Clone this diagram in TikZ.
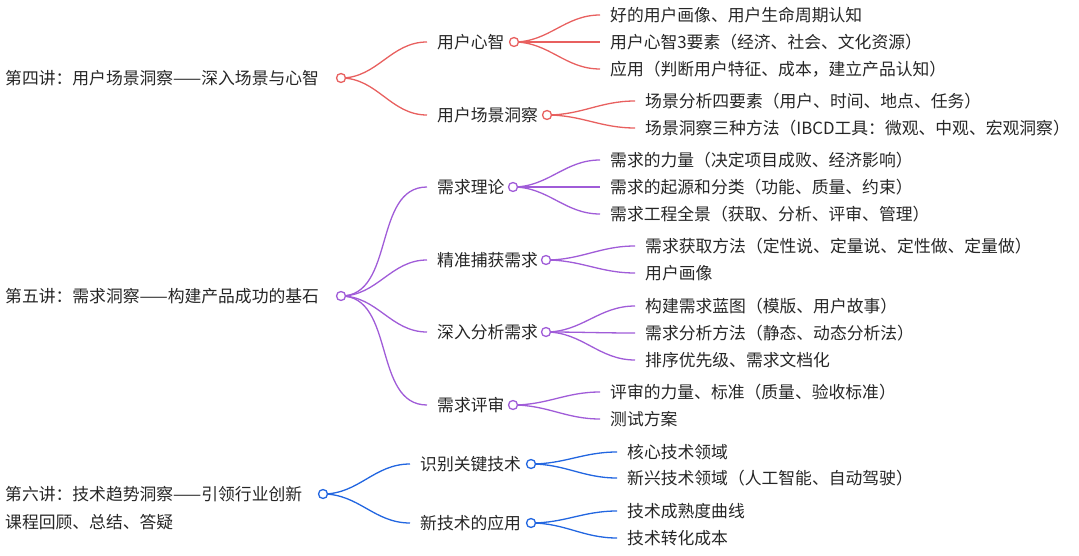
\documentclass[tikz,border=0pt]{standalone}
\usepackage{fontspec}
\setmainfont{Noto Sans CJK SC}
\definecolor{cr}{HTML}{E8605F}
\definecolor{cp}{HTML}{A05CD8}
\definecolor{cb}{HTML}{2266E0}
\begin{document}
\begin{tikzpicture}[x=1pt,y=-1pt,
  txt/.style={anchor=west,inner sep=0pt,font=\fontsize{16.8}{18}\selectfont,text=black!85},
  dot/.style={circle,draw,line width=1.3pt,fill=white,minimum size=9pt,inner sep=0pt},
  br/.style={line width=1.3pt,out=0,in=180}]
\useasboundingbox (0,0) rectangle (1079,556);
% level 1
\node[txt] (t4) at (5,78) {第四讲：用户场景洞察——深入场景与心智};
\node[txt] (t5) at (5,296) {第五讲：需求洞察——构建产品成功的基石};
\node[txt] (t6) at (5,494) {第六讲：技术趋势洞察——引领行业创新};
\node[txt] (t7) at (5,522) {课程回顾、总结、答疑};
\coordinate (c4) at (341,78);
\coordinate (c5) at (341,296);
\coordinate (c6) at (323,494);
% level 2
\node[txt] (a1) at (437,42) {用户心智}; \coordinate (ca1) at (514,42);
\node[txt] (a2) at (437,115) {用户场景洞察}; \coordinate (ca2) at (547,115);
\node[txt] (b1) at (437,187) {需求理论}; \coordinate (cb1) at (513,187);
\node[txt] (b2) at (437,260) {精准捕获需求}; \coordinate (cb2) at (546,260);
\node[txt] (b3) at (437,332) {深入分析需求}; \coordinate (cb3) at (546,332);
\node[txt] (b4) at (437,405) {需求评审}; \coordinate (cb4) at (513,405);
\node[txt] (d1) at (420,464) {识别关键技术}; \coordinate (cd1) at (531,464);
\node[txt] (d2) at (420,523) {新技术的应用}; \coordinate (cd2) at (531,523);
% level 3
\node[txt] (a11) at (610,15) {好的用户画像、用户生命周期认知};
\node[txt] (a12) at (610,42) {用户心智3要素（经济、社会、文化资源）};
\node[txt] (a13) at (610,69) {应用（判断用户特征、成本，建立产品认知）};
\node[txt] (a21) at (645,101) {场景分析四要素（用户、时间、地点、任务）};
\node[txt] (a22) at (645,128) {场景洞察三种方法（IBCD工具：微观、中观、宏观洞察）};
\node[txt] (b11) at (610,160) {需求的力量（决定项目成败、经济影响）};
\node[txt] (b12) at (610,187) {需求的起源和分类（功能、质量、约束）};
\node[txt] (b13) at (610,214) {需求工程全景（获取、分析、评审、管理）};
\node[txt] (b21) at (645,246) {需求获取方法（定性说、定量说、定性做、定量做）};
\node[txt] (b22) at (645,273) {用户画像};
\node[txt] (b31) at (645,306) {构建需求蓝图（模版、用户故事）};
\node[txt] (b32) at (645,333) {需求分析方法（静态、动态分析法）};
\node[txt] (b33) at (645,360) {排序优先级、需求文档化};
\node[txt] (b41) at (610,392) {评审的力量、标准（质量、验收标准）};
\node[txt] (b42) at (610,419) {测试方案};
\node[txt] (d11) at (627,452) {核心技术领域};
\node[txt] (d12) at (627,478) {新兴技术领域（人工智能、自动驾驶）};
\node[txt] (d21) at (627,511) {技术成熟度曲线};
\node[txt] (d22) at (627,538) {技术转化成本};
% edges
\foreach \c/\n/\col in {c4/a1/cr,c4/a2/cr,ca1/a11/cr,ca1/a12/cr,ca1/a13/cr,ca2/a21/cr,ca2/a22/cr,
  c5/b1/cp,c5/b2/cp,c5/b3/cp,c5/b4/cp,cb1/b11/cp,cb1/b12/cp,cb1/b13/cp,cb2/b21/cp,cb2/b22/cp,
  cb3/b31/cp,cb3/b32/cp,cb3/b33/cp,cb4/b41/cp,cb4/b42/cp,
  c6/d1/cb,c6/d2/cb,cd1/d11/cb,cd1/d12/cb,cd2/d21/cb,cd2/d22/cb}
  \draw[br,\col] (\c) to ([xshift=-10pt]\n.west);
% dots
\foreach \c/\col in {c4/cr,ca1/cr,ca2/cr,c5/cp,cb1/cp,cb2/cp,cb3/cp,cb4/cp,c6/cb,cd1/cb,cd2/cb}
  \node[dot,draw=\col] at (\c) {};
\end{tikzpicture}
\end{document}
